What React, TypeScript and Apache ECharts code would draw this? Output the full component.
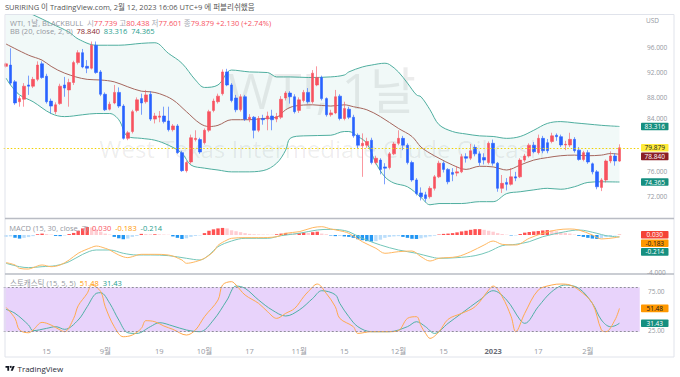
import { useEffect, useRef } from 'react';
import * as echarts from 'echarts';

const FONT = "'Open Sans', 'Noto Sans CJK KR', sans-serif";

// ---------------- data ----------------
const SLOT_COUNT = 141; // 137 daily bars + right offset
const categories = Array.from({ length: SLOT_COUNT }, (_, i) => String(i));
const timeLabels: [number, string][] = [
  [9, '15'], [22, '9월'], [34, '19'], [44, '10월'], [54, '17'], [65, '11월'],
  [75, '15'], [87, '12월'], [97, '15'], [108, '2023'], [118, '17'], [129, '2월'],
];

// [open, high, low, close]
const candles: number[][] = [
  [93.0, 93.6, 92.8, 93.4], [93.2, 95.9, 90.0, 90.3], [90.5, 90.8, 86.8, 87.1], [87.3, 88.2, 86.5, 87.8],
  [87.7, 90.3, 86.5, 89.8], [90.0, 91.5, 88.4, 89.8], [89.8, 91.3, 89.5, 90.9], [90.9, 93.8, 90.6, 93.2],
  [93.4, 93.8, 91.0, 91.2], [91.4, 91.8, 87.0, 87.3], [87.4, 87.8, 85.4, 86.6], [85.7, 87.2, 85.3, 86.8],
  [87.0, 90.2, 86.8, 89.8], [90.0, 91.3, 88.1, 89.5], [89.2, 91.0, 86.5, 90.4], [90.4, 93.9, 90.0, 93.6],
  [93.6, 95.6, 93.3, 95.2], [95.2, 95.8, 92.7, 92.9], [93.0, 94.0, 91.9, 92.7], [92.7, 97.0, 92.5, 96.4],
  [96.4, 97.0, 91.8, 92.0], [92.1, 92.4, 88.2, 88.5], [88.5, 88.8, 85.8, 86.0], [86.1, 87.3, 85.9, 86.9],
  [87.1, 90.0, 86.9, 88.8], [88.8, 89.6, 86.3, 86.6], [86.6, 86.9, 81.2, 81.4], [81.4, 82.6, 81.1, 82.3],
  [82.5, 86.0, 82.2, 85.7], [85.9, 88.0, 85.6, 87.6], [87.8, 88.6, 85.2, 87.1], [87.3, 89.2, 87.0, 88.4],
  [88.5, 89.0, 84.2, 84.5], [84.5, 85.5, 83.8, 85.0], [84.8, 85.8, 84.0, 85.0], [85.0, 86.5, 83.8, 84.1],
  [84.2, 86.5, 82.5, 82.8], [82.8, 83.7, 82.5, 83.4], [83.4, 83.7, 78.9, 79.1], [79.1, 79.4, 76.0, 76.2],
  [76.2, 77.8, 75.9, 77.5], [77.6, 82.0, 77.3, 81.5], [81.2, 82.7, 80.9, 81.4], [81.2, 81.5, 78.9, 79.2],
  [80.7, 83.0, 80.4, 82.7], [82.7, 86.0, 82.4, 85.7], [85.9, 87.8, 85.6, 87.4], [87.3, 88.6, 87.0, 88.2],
  [88.6, 92.5, 88.3, 92.1], [92.1, 92.6, 89.8, 90.0], [90.0, 90.3, 87.2, 87.5], [87.9, 88.4, 85.6, 86.0],
  [86.0, 88.5, 85.7, 88.1], [88.1, 88.4, 84.2, 84.5], [84.5, 85.3, 84.0, 84.8], [84.8, 85.0, 81.4, 82.7],
  [82.7, 85.0, 82.4, 84.6], [84.6, 85.2, 83.6, 84.4], [84.5, 85.7, 82.7, 85.0], [85.0, 86.0, 82.7, 84.4],
  [84.5, 85.5, 84.0, 84.9], [84.8, 88.2, 84.5, 87.7], [87.9, 89.0, 87.5, 88.7], [88.7, 89.0, 87.0, 88.1],
  [88.1, 88.5, 85.4, 85.7], [85.9, 88.0, 85.5, 87.6], [87.5, 89.2, 87.2, 88.8], [88.8, 89.5, 87.0, 87.3],
  [87.3, 92.4, 87.0, 91.9], [90.0, 93.0, 89.8, 91.2], [91.2, 91.5, 87.5, 87.8], [87.8, 88.0, 84.9, 85.2],
  [85.2, 86.0, 84.9, 85.5], [85.5, 89.2, 85.3, 88.1], [88.2, 88.5, 84.3, 84.6], [84.6, 87.3, 84.3, 86.2],
  [86.1, 86.5, 84.5, 84.8], [84.8, 85.2, 81.5, 81.8], [81.9, 82.2, 79.8, 80.3], [80.2, 82.2, 75.2, 80.6],
  [80.3, 81.5, 79.9, 80.9], [81.1, 81.5, 77.2, 77.5], [77.5, 78.6, 77.2, 78.2], [77.9, 78.2, 75.6, 76.4],
  [76.8, 77.4, 74.0, 76.6], [76.7, 79.2, 76.4, 78.9], [78.9, 80.8, 78.7, 80.5], [80.6, 82.7, 80.3, 81.4],
  [81.4, 81.8, 79.5, 80.3], [80.3, 80.6, 77.2, 77.5], [77.5, 77.8, 74.4, 74.7], [74.7, 75.0, 72.2, 72.5],
  [72.6, 73.5, 71.4, 72.0], [72.3, 72.8, 71.2, 71.7], [72.0, 73.7, 71.7, 73.35], [73.35, 75.5, 73.0, 75.2],
  [75.2, 77.8, 75.0, 77.4], [77.4, 77.7, 75.9, 76.4], [76.4, 76.6, 74.0, 74.4], [75.9, 76.6, 74.5, 75.6],
  [75.8, 76.9, 75.3, 76.0], [76.0, 78.9, 75.8, 78.45], [78.45, 79.0, 77.5, 78.2], [78.2, 80.5, 77.9, 79.4],
  [79.95, 80.4, 78.5, 78.9], [78.9, 79.3, 77.0, 77.5], [78.3, 79.0, 77.2, 77.9], [77.5, 80.9, 77.2, 80.6],
  [80.6, 81.2, 77.0, 77.4], [77.4, 77.6, 72.8, 73.35], [73.35, 75.5, 72.6, 74.15], [74.3, 75.0, 73.0, 74.0],
  [74.0, 76.6, 73.8, 75.2], [75.2, 76.0, 74.5, 75.0], [75.2, 78.2, 75.0, 77.9], [77.9, 78.9, 77.6, 78.56],
  [78.56, 80.6, 78.3, 80.3], [80.3, 80.8, 79.0, 79.25], [79.1, 82.0, 78.8, 81.4], [81.4, 81.8, 79.0, 79.4],
  [80.7, 81.3, 79.0, 79.4], [80.9, 82.3, 80.6, 81.8], [81.9, 82.2, 81.0, 81.67], [81.67, 82.0, 80.0, 80.33],
  [80.33, 81.0, 79.5, 80.44], [80.33, 82.3, 80.0, 81.24], [81.24, 81.6, 79.1, 79.42], [79.5, 80.0, 77.8, 78.0],
  [78.0, 79.4, 77.7, 79.1], [79.1, 79.5, 77.3, 77.6], [77.3, 77.5, 75.6, 76.0], [76.0, 76.3, 73.2, 73.6],
  [73.5, 75.0, 72.9, 74.7], [74.7, 78.0, 74.3, 77.75], [77.75, 79.3, 77.4, 78.56], [78.56, 79.0, 77.0, 77.749],
  [77.739, 80.438, 77.601, 79.879],
];

// Bollinger bands (20, close, 2): [bar index, value]
const bbUpper: [number, number][] = [
  [0, 102.2], [3, 102.0], [6, 101.3], [10, 99.9], [14, 98.5], [16, 97.4], [20, 96.4], [25, 96.4], [30, 96.7],
  [33, 96.8], [36, 95.1], [39, 93.5], [42, 90.8], [44, 89.6], [47, 90.0], [50, 92.4], [54, 92.1], [58, 92.0],
  [60, 91.3], [63, 91.3], [67, 91.2], [72, 91.3], [75, 91.6], [76, 92.1], [79, 92.9], [81, 93.2], [84, 93.5],
  [85, 93.3], [87, 92.1], [89, 90.3], [91, 88.4], [92, 88.1], [94, 86.0], [96, 83.6], [99, 82.5], [102, 82.1],
  [105, 81.8], [108, 81.7], [111, 81.4], [114, 81.7], [117, 82.7], [120, 83.8], [123, 84.1], [126, 83.9],
  [129, 83.7], [132, 83.5], [134, 83.4], [136, 83.316],
];
const bbBasis: [number, number][] = [
  [0, 96.6], [5, 94.8], [8, 94.0], [10, 93.0], [13, 91.9], [18, 90.9], [21, 90.8], [24, 90.5], [27, 89.7],
  [30, 89.0], [32, 88.9], [34, 88.6], [37, 87.6], [40, 85.7], [43, 83.8], [45, 83.3], [47, 83.5], [50, 84.4],
  [54, 84.4], [57, 84.6], [60, 84.8], [62, 86.0], [64, 86.6], [68, 86.8], [72, 86.6], [75, 86.8], [77, 86.5],
  [80, 86.0], [83, 84.9], [87, 83.0], [90, 81.7], [92, 80.0], [94, 79.0], [96, 78.2], [99, 77.1], [102, 76.4],
  [105, 76.9], [108, 76.8], [111, 76.3], [114, 77.1], [117, 77.9], [120, 78.3], [123, 78.6], [126, 78.7],
  [129, 78.6], [132, 78.7], [134, 78.95], [136, 78.84],
];
const bbLower: [number, number][] = [
  [0, 91.1], [1, 90.0], [3, 88.4], [6, 87.3], [10, 85.4], [13, 84.9], [17, 85.2], [20, 85.4], [23, 85.4],
  [25, 84.4], [27, 81.7], [30, 81.4], [33, 81.1], [36, 80.3], [39, 79.0], [41, 77.1], [44, 76.6], [47, 76.3],
  [50, 76.0], [53, 76.0], [57, 76.2], [60, 77.4], [62, 79.5], [63, 81.4], [66, 81.8], [72, 81.9], [75, 82.5],
  [76, 82.5], [78, 81.7], [80, 80.6], [82, 77.4], [84, 75.2], [86, 74.2], [89, 73.6], [92, 71.9], [94, 70.7],
  [96, 70.9], [101, 70.9], [105, 71.2], [108, 71.2], [111, 72.5], [114, 72.8], [117, 73.1], [120, 73.35],
  [123, 73.2], [126, 73.6], [129, 74.3], [132, 74.4], [136, 74.365],
];

// MACD (15, 30, close, 7)
const macdLine: [number, number][] = [
  [0, -2.93], [2, -3.18], [3, -3.54], [5, -3.61], [6, -3.46], [8, -3.18], [10, -3.36], [12, -3.18], [14, -2.65],
  [16, -1.94], [19, -1.31], [20, -1.17], [22, -1.41], [23, -1.59], [25, -2.12], [27, -2.4], [28, -2.3],
  [30, -2.05], [33, -2.05], [36, -2.12], [39, -2.65], [40, -3.0], [42, -2.83], [44, -2.47], [46, -1.77],
  [47, -1.1], [49, -0.53], [50, -0.35], [53, -0.28], [56, -0.28], [60, -0.18], [62, 0.18], [65, 0.35],
  [68, 0.78], [70, 0.88], [72, 0.64], [74, 0.45], [76, 0.18], [79, -0.71], [82, -1.41], [84, -1.94],
  [87, -1.77], [90, -1.7], [92, -2.3], [94, -2.76], [96, -2.47], [100, -2.3], [103, -1.77], [106, -1.06],
  [108, -0.64], [110, -0.99], [113, -1.06], [116, -0.35], [119, 0.18], [122, 0.53], [125, 0.64], [127, 0.53],
  [130, 0.0], [132, -0.42], [135, -0.28], [136, -0.183],
];
const macdSignal: [number, number][] = [
  [0, -3.0], [3, -3.36], [5, -3.46], [8, -3.36], [11, -3.25], [14, -2.83], [17, -2.05], [20, -1.59], [23, -1.59],
  [26, -1.94], [29, -2.12], [32, -2.12], [36, -2.19], [40, -2.47], [43, -2.65], [45, -2.12], [47, -1.24],
  [50, -0.64], [53, -0.35], [58, -0.35], [61, -0.07], [65, 0.18], [69, 0.53], [72, 0.6], [74, 0.55], [76, 0.35],
  [79, -0.35], [83, -1.06], [87, -1.59], [91, -1.94], [94, -2.3], [96, -2.47], [100, -2.4], [104, -2.19],
  [107, -1.77], [110, -1.13], [113, -0.99], [116, -0.71], [119, -0.18], [124, 0.35], [127, 0.53], [131, 0.18],
  [133, -0.07], [136, -0.214],
];
const macdHist: number[] = [
  -0.2, -0.15, -0.3, -0.38, -0.3, -0.22, -0.12, 0.08, 0.15, 0.1,
  0.05, -0.1, -0.12, -0.06, 0.1, 0.22, 0.45, 0.7, 0.85, 0.8,
  0.6, 0.35, 0.15, 0.05, -0.2, -0.35, -0.45, -0.38, -0.2, -0.1,
  0.12, 0.1, 0.08, 0.08, 0.06, 0.05, 0.03, -0.15, -0.3, -0.42,
  -0.35, -0.2, -0.1, -0.05, 0.2, 0.45, 0.6, 0.7, 0.75, 0.7,
  0.5, 0.4, 0.3, 0.2, 0.12, 0.08, 0.06, 0.05, 0.04, 0.03,
  0.08, 0.15, 0.22, 0.2, 0.15, 0.2, 0.25, 0.22, 0.3, 0.35,
  0.15, 0.08, -0.05, -0.12, -0.1, -0.15, -0.2, -0.3, -0.45, -0.55,
  -0.65, -0.7, -0.65, -0.5, -0.3, -0.2, -0.15, -0.12, -0.2, -0.3,
  -0.4, -0.42, -0.35, -0.25, -0.15, -0.08, 0.05, 0.12, 0.15, 0.2,
  0.28, 0.38, 0.45, 0.55, 0.62, 0.62, 0.55, 0.45, 0.35, 0.2,
  0.1, 0.03, -0.05, -0.05, 0.1, 0.25, 0.32, 0.38, 0.42, 0.48,
  0.52, 0.5, 0.4, 0.3, 0.22, 0.15, 0.05, -0.1, -0.2, -0.3,
  -0.38, -0.42, -0.35, -0.22, -0.12, -0.04, 0.03,
];

// Stochastic (15, 5, 5)
const stochK: [number, number][] = [
  [0, 52.9], [2, 38.0], [3, 22.3], [5, 18.6], [6, 22.3], [8, 32.6], [10, 29.0], [12, 22.3], [13, 20.0],
  [15, 38.0], [16, 55.0], [18, 71.8], [19, 83.1], [21, 74.1], [22, 53.8], [24, 26.8], [26, 13.2], [28, 15.5],
  [30, 24.5], [31, 34.9], [33, 33.5], [35, 27.7], [37, 23.2], [40, 15.5], [42, 22.3], [44, 40.3], [47, 62.8],
  [48, 83.1], [50, 87.6], [51, 83.1], [53, 69.6], [56, 58.3], [58, 47.0], [60, 38.0], [62, 44.8], [64, 51.5],
  [66, 67.3], [67, 74.1], [69, 84.4], [71, 71.8], [73, 53.8], [74, 38.0], [77, 26.8], [78, 17.7], [81, 20.0],
  [85, 20.0], [87, 21.4], [89, 38.0], [91, 40.3], [92, 28.0], [93, 18.0], [94, 11.0], [96, 20.0], [98, 36.7],
  [101, 44.8], [104, 53.8], [107, 76.3], [108, 81.7], [110, 67.3], [112, 40.3], [113, 20.0], [115, 44.8],
  [118, 76.3], [121, 83.1], [123, 84.4], [125, 83.1], [127, 76.3], [130, 58.3], [132, 22.3], [133, 20.0],
  [135, 35.8], [136, 51.48],
];
const stochD: [number, number][] = [
  [0, 50.2], [2, 44.8], [5, 29.0], [6, 21.4], [9, 24.5], [11, 26.8], [13, 23.2], [16, 35.8], [18, 53.8],
  [20, 71.8], [21, 72.7], [23, 58.3], [25, 35.8], [27, 18.6], [29, 17.7], [32, 26.8], [34, 32.2], [37, 27.7],
  [40, 22.3], [43, 20.0], [46, 35.8], [49, 62.8], [51, 81.7], [53, 78.6], [56, 62.8], [59, 49.3], [62, 41.2],
  [65, 49.3], [68, 65.0], [70, 75.4], [73, 70.0], [74, 58.3], [76, 40.3], [78, 26.8], [81, 20.0], [85, 20.0],
  [89, 26.8], [91, 33.5], [93, 26.8], [95, 17.7], [98, 31.3], [101, 44.8], [105, 62.8], [108, 75.4],
  [111, 62.8], [114, 35.8], [115, 31.3], [118, 53.8], [121, 74.1], [124, 83.1], [127, 78.6], [130, 58.3],
  [132, 35.8], [134, 26.8], [135, 28.0], [136, 31.43],
];

// visible axis tick labels (80.000 sits entirely under the last-value boxes in the reference)
const priceTicks = [72, 76, 84, 88, 92, 96];
const macdTicks = [-4];
const stochTicks = [25, 75];
const stochLevels = [20, 80];

// axis ranges (as shown in the panes)
const MAIN_RANGE = [68.57, 101.35];
const MACD_RANGE = [-4.136, 1.644];
const STOCH_RANGE = [6.08, 97.3];

// ---------------- styles ----------------
const UP = '#f7525f';
const DOWN = '#2962ff';
const GRAY = '#9598a1';
const TEAL_BOX = '#168f80';
const BOX_H = 7.6;

const TVLogo = echarts.graphic.extendPath('M14 22H7V11H0V4h14v18zM28 22h-8l7.5-18h8L28 22z', {});
echarts.graphic.registerShape('tvlogo', TVLogo);

const GRIDS = [
  { left: 3.75, width: 636, top: 14.5, height: 203.5 },
  { left: 3.75, width: 636, top: 219.5, height: 54.5 },
  { left: 3.75, width: 636, top: 274.5, height: 67.5 },
];

function buildOption() {
  const labelMap = new Map<number, string>(timeLabels);
  const last = candles[candles.length - 1];
  const histData = macdHist.map((v, i) => {
    const prev = i > 0 ? macdHist[i - 1] : v;
    let color;
    if (v >= 0) color = v >= prev ? '#ff5252' : '#ffcdd2';
    else color = v < prev ? '#2196f3' : '#bbdefb';
    return { value: v, itemStyle: { color } };
  });
  const line = (data: any, xi: number, color: string, z = 3) => ({
    type: 'line', xAxisIndex: xi, yAxisIndex: xi, data, smooth: 0.35, symbol: 'none', silent: true, z,
    lineStyle: { color, width: 1 },
  });
  return {
    animation: false,
    backgroundColor: '#ffffff',
    textStyle: { fontFamily: FONT },
    grid: GRIDS,
    xAxis: [0, 1, 2].map((k) => ({
      type: 'category', gridIndex: k, data: categories, boundaryGap: true,
      axisLine: { show: false }, axisTick: { show: false }, splitLine: { show: false },
      axisLabel: k === 2
        ? {
            show: true, interval: (idx: number) => labelMap.has(idx),
            formatter: (v: string) => {
              const t = labelMap.get(Number(v)) ?? '';
              return t === '2023' ? '{b|2023}' : t;
            },
            color: GRAY, fontSize: 7.5, margin: 5, fontFamily: FONT,
            rich: { b: { fontWeight: 'bold', color: '#6a6d78', fontSize: 7.5, fontFamily: FONT } },
          }
        : { show: false },
    })),
    yAxis: [MAIN_RANGE, MACD_RANGE, STOCH_RANGE].map((r, k) => ({
      type: 'value', gridIndex: k, min: r[0], max: r[1], show: false, splitLine: { show: false },
    })),
    series: [
      {
        type: 'custom', xAxisIndex: 0, yAxisIndex: 0, data: [[0, 0]], silent: true, z: 1,
        renderItem: (_p: any, api: any) => {
          const top = bbUpper.map(([i, v]) => api.coord([i, Math.min(v, MAIN_RANGE[1])]));
          const bot = [...bbLower].reverse().map(([i, v]) => api.coord([i, v]));
          return { type: 'polygon', shape: { points: [...top, ...bot] }, style: { fill: 'rgba(38,166,154,0.065)' } };
        },
      },
      line(bbUpper, 0, '#4fae9f'),
      line(bbLower, 0, '#4fae9f'),
      line(bbBasis, 0, '#a5665d'),
      {
        type: 'candlestick', xAxisIndex: 0, yAxisIndex: 0, barWidth: 3, z: 4,
        data: candles.map(([o, h, l, c]) => [o, c, l, h]),
        itemStyle: { color: UP, color0: DOWN, borderColor: UP, borderColor0: DOWN, borderWidth: 0.6 },
        markLine: {
          silent: true, symbol: 'none', label: { show: false },
          lineStyle: { color: '#f0d000', type: [1.5, 2], width: 1 },
          data: [{ yAxis: last[3] }],
        },
      },
      { type: 'bar', xAxisIndex: 1, yAxisIndex: 1, data: histData, barWidth: 3.4, silent: true, z: 2 },
      line(macdSignal, 1, '#74c6b9'),
      line(macdLine, 1, '#ffb760', 4),
      {
        ...line(stochD, 2, '#4fb0a5'),
        markArea: { silent: true, itemStyle: { color: '#e8d3fb' }, data: [[{ yAxis: stochLevels[0] }, { yAxis: stochLevels[1] }]] },
        markLine: {
          silent: true, symbol: 'none', label: { show: false },
          lineStyle: { color: '#8f8f99', type: [2, 2], width: 1 },
          data: stochLevels.map((v) => ({ yAxis: v })),
        },
      },
      line(stochK, 2, '#ffa94d', 4),
    ],
  };
}

function buildGraphics(chart: any) {
  const py = (g: number, v: number) => {
    const p = chart.convertToPixel({ gridIndex: g }, [0, v]);
    return Array.isArray(p) ? p[1] : p;
  };
  const els: any[] = [];
  const txt = (x: number, y: number, text: string, size: number, fill: string, extra: any = {}, z = 55) => ({
    type: 'text', x, y, z, silent: true,
    style: { text, font: `${size}px ${FONT}`, fill, verticalAlign: 'middle', align: 'left', ...extra },
  });

  // watermark
  els.push(txt(322, 90, 'WTI, 1날', 50, 'rgba(0,0,0,0.075)', { align: 'center' }, 0));
  els.push(txt(322, 148, 'West Texas Intermediate Crude Oil cash', 24, 'rgba(0,0,0,0.075)', { align: 'center' }, 0));

  // frame and separators
  els.push({ type: 'rect', z: 50, silent: true, shape: { x: 5, y: 14.5, width: 669, height: 342.5 }, style: { fill: 'none', stroke: '#e0e3eb', lineWidth: 1 } });
  [218.5, 274].forEach((y) => els.push({ type: 'line', z: 50, silent: true, shape: { x1: 5, y1: y, x2: 674, y2: y }, style: { stroke: '#b9bcc4', lineWidth: 1.5 } }));

  // header and legends
  const rich = {
    g: { fill: GRAY, font: `7.5px ${FONT}` },
    k: { fill: '#a8abb4', font: `7.5px ${FONT}` },
    r: { fill: UP, font: `7.5px ${FONT}` },
    b: { fill: '#8b2a2a', font: `7.5px ${FONT}` },
    t: { fill: '#1f9e8e', font: `7.5px ${FONT}` },
    o: { fill: '#ff9800', font: `7.5px ${FONT}` },
  };
  const last = candles[candles.length - 1];
  const prevClose = candles[candles.length - 2][3];
  const chg = last[3] - prevClose;
  els.push(txt(5, 7, 'SURIRING 이 TradingView.com, 2월 12, 2023 16:06 UTC+9 에 퍼블리쉬했음', 7.5, '#555'));
  els.push(txt(10, 22.7,
    `{g|WTI, 1날, BLACKBULL}  {k|시}{r|${last[0].toFixed(3)}} {k|고}{r|${last[1].toFixed(3)}} {k|저}{r|${last[2].toFixed(3)}} {k|종}{r|${last[3].toFixed(3)}} {r|+${chg.toFixed(3)} (+${((chg / prevClose) * 100).toFixed(2)}%)}`,
    7.5, GRAY, { rich }));
  const lastOf = (a: [number, number][]) => a[a.length - 1][1];
  els.push(txt(10, 31.3, `{g|BB (20, close, 2, 0)}  {b|${lastOf(bbBasis).toFixed(3)}}  {t|${lastOf(bbUpper).toFixed(3)}}  {t|${lastOf(bbLower).toFixed(3)}}`, 7.5, GRAY, { rich }));
  const hLast = macdHist[macdHist.length - 1];
  els.push(txt(9.3, 227.7, `{g|MACD (15, 30, close, 7)}  {r|${hLast.toFixed(3)}}  {o|${lastOf(macdLine).toFixed(3)}}  {t|${lastOf(macdSignal).toFixed(3)}}`, 7.5, GRAY, { rich }));
  els.push(txt(10, 282.7, `{g|스토캐스틱 (15, 5, 5)}  {o|${lastOf(stochK).toFixed(2)}}  {t|${lastOf(stochD).toFixed(2)}}`, 7.5, GRAY, { rich }));

  // last-value boxes (stacked so they never overlap)
  const groups = [
    [
      { g: 0, v: lastOf(bbUpper), d: 3, bg: TEAL_BOX, fg: '#fff' },
      { g: 0, v: last[3], d: 3, bg: '#ffeb3b', fg: '#131722' },
      { g: 0, v: lastOf(bbBasis), d: 3, bg: '#8b1e24', fg: '#fff' },
      { g: 0, v: lastOf(bbLower), d: 3, bg: TEAL_BOX, fg: '#fff' },
    ],
    [
      { g: 1, v: hLast, d: 3, bg: '#f44336', fg: '#fff' },
      { g: 1, v: lastOf(macdLine), d: 3, bg: '#ff9800', fg: '#131722' },
      { g: 1, v: lastOf(macdSignal), d: 3, bg: TEAL_BOX, fg: '#fff' },
    ],
    [
      { g: 2, v: lastOf(stochK), d: 2, bg: '#ff9800', fg: '#131722' },
      { g: 2, v: lastOf(stochD), d: 2, bg: TEAL_BOX, fg: '#fff' },
    ],
  ];
  const boxSpans: [number, number][] = [];
  groups.forEach((grp) => {
    const items = grp.map((b) => ({ ...b, y: py(b.g, b.v) })).sort((a, b) => a.y - b.y);
    let prevBottom = -Infinity;
    items.forEach((b) => {
      const top = Math.max(b.y - BOX_H / 2, prevBottom + 1);
      prevBottom = top + BOX_H;
      boxSpans.push([top, top + BOX_H]);
      els.push({ type: 'rect', z: 60, silent: true, shape: { x: 641, y: top, width: 27.5, height: BOX_H, r: 0.8 }, style: { fill: b.bg } });
      els.push(txt(654.75, top + BOX_H / 2, b.v.toFixed(b.d), 6.5, b.fg, { align: 'center' }, 61));
    });
  });

  // axis labels, nudged clear of any last-value box they would touch
  const clear = (y: number) => {
    const half = 3.6;
    for (const [t, b] of boxSpans) {
      if (y + half > t && y - half < b) return y < (t + b) / 2 ? t - half - 0.3 : b + half + 0.3;
    }
    return y;
  };
  els.push(txt(646, 20.5, 'USD', 6.5, GRAY));
  priceTicks.forEach((v) => els.push(txt(647, clear(py(0, v)), v.toFixed(3), 6.5, GRAY)));
  macdTicks.forEach((v) => els.push(txt(647, clear(py(1, v)), v.toFixed(3), 6.5, GRAY)));
  stochTicks.forEach((v) => els.push(txt(648, clear(py(2, v)), v.toFixed(2), 6.5, GRAY)));

  // logo
  els.push({ type: 'tvlogo', x: 5.5, y: 365, scaleX: 0.26, scaleY: 0.26, z: 55, silent: true, style: { fill: '#131722' } });
  els.push({ type: 'circle', z: 55, silent: true, shape: { cx: 5.5 + 20 * 0.26, cy: 365 + 7.5 * 0.26, r: 1 }, style: { fill: '#131722' } });
  els.push(txt(17.5, 368, 'TradingView', 8, '#2a2e39'));
  return els;
}

export default function App() {
  const ref = useRef<HTMLDivElement>(null);
  useEffect(() => {
    const chart = echarts.init(ref.current as HTMLDivElement, null, { renderer: 'svg' });
    chart.setOption(buildOption() as any);
    chart.setOption({ graphic: buildGraphics(chart) } as any);
    return () => chart.dispose();
  }, []);
  return <div ref={ref} style={{ position: 'absolute', left: 0, top: 0, width: 680, height: 377, background: '#fff' }} />;
}
